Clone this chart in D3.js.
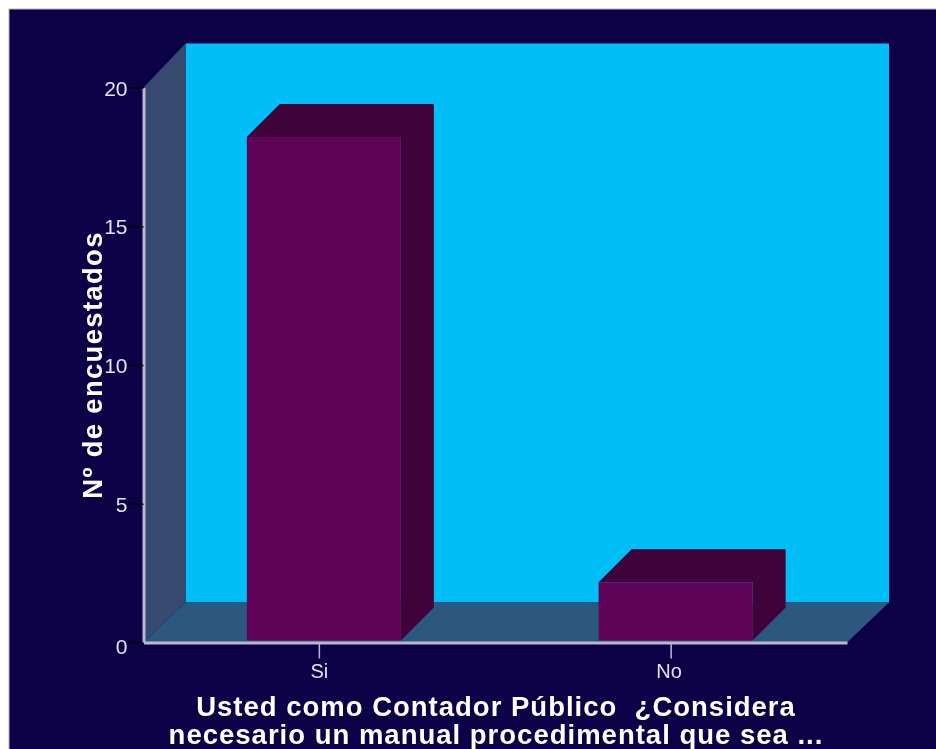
<!DOCTYPE html>
<html><head><meta charset="utf-8">
<script src="https://cdn.jsdelivr.net/npm/d3@7"></script>
<style>html,body{margin:0;padding:0;background:#fff;overflow:hidden}svg{display:block;filter:blur(0.45px)}</style>
</head><body><svg id="c" width="936" height="749"></svg>
<script>
const categories = ["Si", "No"];
const counts = [18.22, 2.17];
const yTicks = [0, 5, 10, 15, 20];
const yTitle = "Nº de encuestados";
const xTitleLines = ["Usted como Contador Público  ¿Considera", "necesario un manual procedimental que sea ..."];

const C = {bg:"#0c0047", edge:"#b4b0c6", wall:"#00bef6", side:"#354a6e", floor:"#2c5880",
           bar:"#60045a", barDark:"#3f0339", axis:"#b9b8cf", text:"#e4e2ee"};
const left = 143.5, right = 847, y0 = 642.5, y20 = 87.5;
const depthX = 42, depthY = 44, barDepthX = 33, barDepthY = 33, barShift = 4.5;

const svg = d3.select("#c");
const x = d3.scaleBand().domain(categories).range([left, right]).paddingInner(0.5622).paddingOuter(0.281);
const y = d3.scaleLinear().domain([0, 20]).range([y0, y20]);
const poly = (pts, fill) => svg.append("polygon").attr("points", pts.map(p => p.join(",")).join(" ")).attr("fill", fill);

svg.append("rect").attr("x", 9).attr("y", 9).attr("width", 940).attr("height", 760).attr("fill", C.bg).attr("stroke", C.edge).attr("stroke-width", 1);

// back wall, left wall, floor
svg.append("rect").attr("x", left + depthX).attr("y", y20 - depthY).attr("width", right - left).attr("height", y0 - y20 + 4).attr("fill", C.wall);
poly([[left, y20], [left + depthX, y20 - depthY], [left + depthX, y0 - depthY + 4], [left, y0]], C.side);
poly([[left, y0], [left + depthX, y0 - depthY + 4], [right + depthX, y0 - depthY + 4], [right, y0]], C.floor);

// bars
const base = y0 - 2;
categories.forEach((c, i) => {
  const x0 = x(c) + barShift, w = x.bandwidth(), top = y(counts[i]);
  poly([[x0, top], [x0 + barDepthX, top - barDepthY], [x0 + w + barDepthX, top - barDepthY],
        [x0 + w + barDepthX, base - barDepthY], [x0 + w, base], [x0 + w, top]], C.barDark);
  svg.append("rect").attr("x", x0).attr("y", top).attr("width", w).attr("height", base - top).attr("fill", C.bar);
});

// axes
const yAxis = svg.append("g").attr("transform", `translate(${left},0)`)
  .call(d3.axisLeft(y).tickValues(yTicks).tickSize(15).tickPadding(1).tickSizeOuter(0));
yAxis.select(".domain").attr("stroke", C.axis).attr("stroke-width", 3);
yAxis.selectAll(".tick line").attr("stroke", "#000").attr("stroke-width", 1.5);
yAxis.selectAll(".tick text").attr("fill", C.text).attr("font-family", "Liberation Sans").attr("font-size", 21).attr("dy", "0.36em");
yAxis.selectAll(".tick").filter(d => d === 0).select("text").attr("dy", "0.5em");

const xAxis = svg.append("g").attr("transform", `translate(0,${y0})`)
  .call(d3.axisBottom(x).tickSize(16).tickPadding(5).tickSizeOuter(0));
xAxis.select(".domain").attr("stroke", C.axis).attr("stroke-width", 3);
xAxis.selectAll(".tick line").attr("stroke", C.axis).attr("stroke-width", 1.5);
xAxis.selectAll(".tick text").attr("fill", C.text).attr("font-family", "Liberation Sans").attr("font-size", 20);
xAxis.selectAll(".tick").filter(d => d === "No").select("text").attr("dx", -2);

// titles
const title = {fill:"#fff", "font-family":"Liberation Sans", "font-weight":"bold", "font-size":27.5, "text-anchor":"middle"};
const setAll = (s, o) => Object.entries(o).forEach(([k, v]) => s.attr(k, v));
xTitleLines.forEach((t, i) => {
  const s = svg.append("text").attr("x", 496).attr("y", 716 + i * 28).attr("letter-spacing", 1).style("white-space", "pre").text(t);
  setAll(s, title);
});
const s = svg.append("text").attr("transform", "translate(102,365) rotate(-90)").attr("letter-spacing", 1.3).text(yTitle);
setAll(s, title);
</script></body></html>
